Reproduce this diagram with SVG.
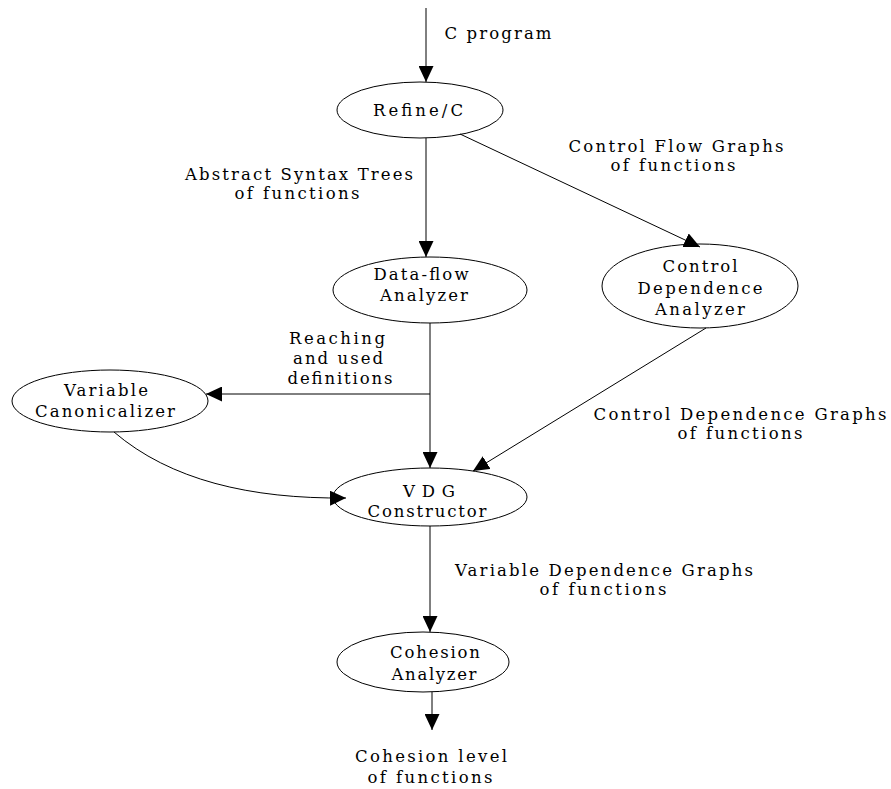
<svg xmlns="http://www.w3.org/2000/svg" width="891" height="789" viewBox="0 0 891 789">
<style>
text{font-family:"DejaVu Serif","Liberation Serif",serif;font-size:16.5px;fill:#000;text-anchor:middle}
ellipse{fill:#fff;stroke:#000;stroke-width:1}
.c line,.c path{stroke:#000;stroke-width:1;fill:none}
</style>
<defs>
<marker id="ah" viewBox="0 0 16 15" refX="16" refY="7.5" markerWidth="16" markerHeight="15" markerUnits="userSpaceOnUse" orient="auto">
<path d="M0,0 L16,7.5 L0,15 Z" fill="#000"/>
</marker>
</defs>
<rect width="891" height="789" fill="#fff"/>
<g id="refine">
<ellipse cx="420" cy="110" rx="83" ry="28"/>
<text x="418" y="116" textLength="90">Refine/C</text>
</g>
<g id="dataflow">
<ellipse cx="430" cy="290" rx="97" ry="33"/>
<text x="421" y="280" textLength="95">Data-flow</text>
<text x="424" y="301" textLength="88">Analyzer</text>
</g>
<g id="control">
<ellipse cx="700" cy="286" rx="98" ry="42"/>
<text x="700" y="272" textLength="75">Control</text>
<text x="700" y="294" textLength="125">Dependence</text>
<text x="700" y="315" textLength="90">Analyzer</text>
</g>
<g id="canon">
<ellipse cx="110" cy="401" rx="98" ry="31"/>
<text x="106" y="396" textLength="84">Variable</text>
<text x="105" y="417" textLength="140">Canonicalizer</text>
</g>
<g id="vdg">
<ellipse cx="430" cy="497" rx="97" ry="29"/>
<text x="429" y="497" textLength="52">VDG</text>
<text x="427" y="517" textLength="119">Constructor</text>
</g>
<g id="cohesion">
<ellipse cx="423" cy="662" rx="86" ry="30"/>
<text x="435" y="658" textLength="90">Cohesion</text>
<text x="434" y="680" textLength="85">Analyzer</text>
</g>
<g class="c" id="connectors">
<line x1="426" y1="8" x2="426" y2="82" marker-end="url(#ah)"/>
<line x1="426" y1="138" x2="426" y2="257" marker-end="url(#ah)"/>
<line x1="460" y1="134" x2="700" y2="247" marker-end="url(#ah)"/>
<line x1="430" y1="323" x2="430" y2="468" marker-end="url(#ah)"/>
<line x1="430" y1="394" x2="206" y2="394" marker-end="url(#ah)"/>
<line x1="706" y1="328" x2="473" y2="471" marker-end="url(#ah)"/>
<path d="M114,432 C170,480 250,499 346,498" marker-end="url(#ah)"/>
<line x1="430" y1="526" x2="430" y2="632" marker-end="url(#ah)"/>
<line x1="432" y1="692" x2="432" y2="730" marker-end="url(#ah)"/>
</g>
<g id="labels">
<text x="498" y="39" textLength="107">C program</text>
<text x="299" y="180" textLength="228">Abstract Syntax Trees</text>
<text x="297" y="199" textLength="125">of functions</text>
<text x="676" y="152" textLength="215">Control Flow Graphs</text>
<text x="673" y="171" textLength="125">of functions</text>
<text x="337" y="344" textLength="96">Reaching</text>
<text x="338" y="364" textLength="90">and used</text>
<text x="340" y="384" textLength="105">definitions</text>
<text x="740" y="420" textLength="293">Control Dependence Graphs</text>
<text x="740" y="439" textLength="125">of functions</text>
<text x="604" y="576" textLength="298">Variable Dependence Graphs</text>
<text x="603" y="595" textLength="127">of functions</text>
<text x="431" y="762" textLength="152">Cohesion level</text>
<text x="430" y="783" textLength="125">of functions</text>
</g>
</svg>
